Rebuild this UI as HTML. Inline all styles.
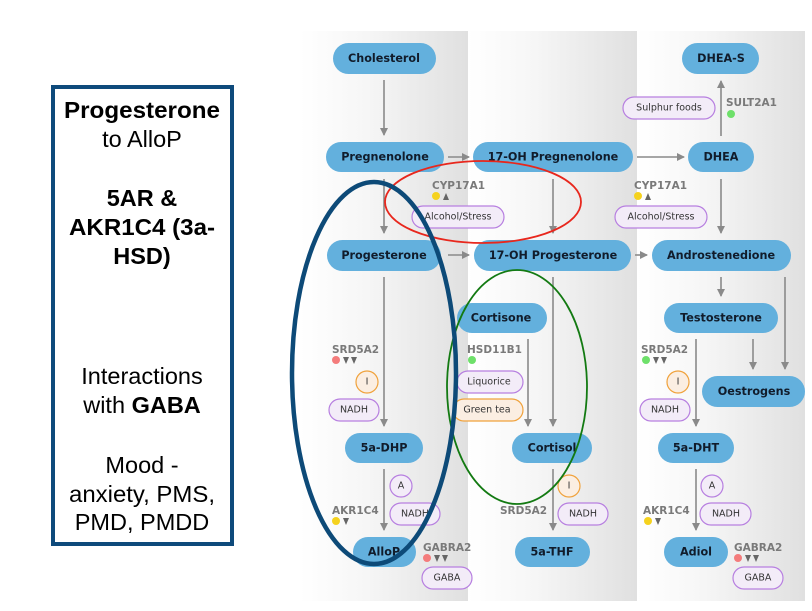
<!DOCTYPE html>
<html><head><meta charset="utf-8"><style>
html,body{margin:0;padding:0;background:#fff;width:812px;height:611px;overflow:hidden}
svg{display:block}
.p{fill:#63b0dd}
.pt{font-family:"DejaVu Sans","Liberation Sans",sans-serif;font-weight:bold;font-size:11.2px;fill:#111c2b;text-anchor:middle;dominant-baseline:central}
.en{font-family:"DejaVu Sans","Liberation Sans",sans-serif;font-weight:bold;font-size:10.5px;fill:#7a7a7a}
.tg{fill:#f3ecf8;stroke:#b77fe0;stroke-width:1.2}
.to{fill:#fbeee2;stroke:#f0a23c;stroke-width:1.2}
.tt{font-family:"DejaVu Sans","Liberation Sans",sans-serif;font-size:9.5px;fill:#333;text-anchor:middle;dominant-baseline:central}
.ln{stroke:#8a8a8a;stroke-width:1.6;fill:none}
.bx{font-family:"Liberation Sans",sans-serif;font-size:23.5px;fill:#000;text-anchor:middle}
</style></head><body>
<svg width="812" height="611" viewBox="0 0 812 611" xmlns="http://www.w3.org/2000/svg">
<defs>
<linearGradient id="g" x1="0" x2="1" y1="0" y2="0"><stop offset="0" stop-color="#ffffff"/><stop offset="0.4" stop-color="#f6f6f6"/><stop offset="1" stop-color="#e0e0e0"/></linearGradient>
<marker id="a" markerWidth="8" markerHeight="8" refX="7" refY="4" orient="auto" markerUnits="userSpaceOnUse"><path d="M0,0 L8,4 L0,8 Z" fill="#8a8a8a"/></marker>
</defs>
<rect x="300" y="31" width="168" height="570" fill="url(#g)"/>
<rect x="468" y="31" width="169" height="570" fill="url(#g)"/>
<rect x="637" y="31" width="168" height="570" fill="url(#g)"/>

<!-- left box -->
<rect x="53" y="87" width="179" height="457" fill="#fff" stroke="#0e4a7b" stroke-width="4"/>
<text class="bx" x="142" y="118" font-weight="bold" textLength="156" lengthAdjust="spacingAndGlyphs">Progesterone</text>
<text class="bx" x="142" y="147">to AlloP</text>
<text class="bx" x="142" y="206" font-weight="bold">5AR &amp;</text>
<text class="bx" x="142" y="235" font-weight="bold" textLength="146" lengthAdjust="spacingAndGlyphs">AKR1C4 (3a-</text>
<text class="bx" x="142" y="264" font-weight="bold">HSD)</text>
<text class="bx" x="142" y="384">Interactions</text>
<text class="bx" x="142" y="413">with <tspan font-weight="bold">GABA</tspan></text>
<text class="bx" x="142" y="473">Mood -</text>
<text class="bx" x="142" y="502" textLength="146" lengthAdjust="spacingAndGlyphs">anxiety, PMS,</text>
<text class="bx" x="142" y="530">PMD, PMDD</text>

<!-- connectors -->
<g class="ln">
<line x1="384" y1="80" x2="384" y2="135" marker-end="url(#a)"/>
<line x1="384" y1="179" x2="384" y2="233" marker-end="url(#a)"/>
<line x1="448" y1="157" x2="469" y2="157" marker-end="url(#a)"/>
<line x1="637" y1="157" x2="684" y2="157" marker-end="url(#a)"/>
<line x1="721" y1="136" x2="721" y2="81" marker-end="url(#a)"/>
<line x1="553" y1="179" x2="553" y2="233" marker-end="url(#a)"/>
<line x1="721" y1="179" x2="721" y2="233" marker-end="url(#a)"/>
<line x1="448" y1="255" x2="469" y2="255" marker-end="url(#a)"/>
<line x1="635" y1="255" x2="647" y2="255" marker-end="url(#a)"/>
<line x1="721" y1="277" x2="721" y2="296" marker-end="url(#a)"/>
<line x1="785" y1="277" x2="785" y2="369" marker-end="url(#a)"/>
<line x1="753" y1="339" x2="753" y2="369" marker-end="url(#a)"/>
<line x1="384" y1="277" x2="384" y2="426" marker-end="url(#a)"/>
<line x1="528" y1="339" x2="528" y2="426" marker-end="url(#a)"/>
<line x1="553" y1="277" x2="553" y2="426" marker-end="url(#a)"/>
<line x1="696" y1="339" x2="696" y2="426" marker-end="url(#a)"/>
<line x1="384" y1="469" x2="384" y2="530" marker-end="url(#a)"/>
<line x1="553" y1="469" x2="553" y2="530" marker-end="url(#a)"/>
<line x1="696" y1="469" x2="696" y2="530" marker-end="url(#a)"/>
</g>

<!-- pills -->
<g>
<rect class="p" x="333" y="43" width="103" height="31" rx="15.5"/><text class="pt" x="384" y="58.5">Cholesterol</text>
<rect class="p" x="682" y="43" width="77" height="31" rx="15.5"/><text class="pt" x="721" y="58.5">DHEA-S</text>
<rect class="p" x="326" y="142" width="118" height="30" rx="15"/><text class="pt" x="385" y="157">Pregnenolone</text>
<rect class="p" x="473" y="142" width="160" height="30" rx="15"/><text class="pt" x="553" y="157">17-OH Pregnenolone</text>
<rect class="p" x="688" y="142" width="66" height="30" rx="15"/><text class="pt" x="721" y="157">DHEA</text>
<rect class="p" x="327" y="240" width="114" height="31" rx="15.5"/><text class="pt" x="384" y="255.5">Progesterone</text>
<rect class="p" x="474" y="240" width="157" height="31" rx="15.5"/><text class="pt" x="553" y="255.5">17-OH Progesterone</text>
<rect class="p" x="652" y="240" width="139" height="31" rx="15.5"/><text class="pt" x="721" y="255.5">Androstenedione</text>
<rect class="p" x="457" y="303" width="90" height="30" rx="15"/><text class="pt" x="501" y="318">Cortisone</text>
<rect class="p" x="664" y="303" width="114" height="30" rx="15"/><text class="pt" x="721" y="318">Testosterone</text>
<rect class="p" x="702" y="376" width="103" height="31" rx="15.5"/><text class="pt" x="754" y="391.5">Oestrogens</text>
<rect class="p" x="345" y="433" width="78" height="30" rx="15"/><text class="pt" x="384" y="448">5a-DHP</text>
<rect class="p" x="512" y="433" width="80" height="30" rx="15"/><text class="pt" x="552" y="448">Cortisol</text>
<rect class="p" x="658" y="433" width="76" height="30" rx="15"/><text class="pt" x="696" y="448">5a-DHT</text>
<rect class="p" x="353" y="537" width="63" height="30" rx="15"/><text class="pt" x="384" y="552">AlloP</text>
<rect class="p" x="515" y="537" width="75" height="30" rx="15"/><text class="pt" x="552" y="552">5a-THF</text>
<rect class="p" x="664" y="537" width="64" height="30" rx="15"/><text class="pt" x="696" y="552">Adiol</text>
</g>

<!-- enzymes -->
<text class="en" x="726" y="106">SULT2A1</text><circle cx="731" cy="114" r="4" fill="#6ee06a"/>
<text class="en" x="432" y="189">CYP17A1</text><circle cx="436" cy="196" r="4" fill="#f5d21e"/><path d="M443,200 L446,193 L449,200Z" fill="#666"/>
<text class="en" x="634" y="189">CYP17A1</text><circle cx="638" cy="196" r="4" fill="#f5d21e"/><path d="M645,200 L648,193 L651,200Z" fill="#666"/>
<text class="en" x="332" y="353">SRD5A2</text><circle cx="336" cy="360" r="4" fill="#f47c7c"/><path d="M343,357 L349,357 L346,364Z M351,357 L357,357 L354,364Z" fill="#666"/>
<text class="en" x="467" y="353">HSD11B1</text><circle cx="472" cy="360" r="4" fill="#6ee06a"/>
<text class="en" x="641" y="353">SRD5A2</text><circle cx="646" cy="360" r="4" fill="#6ee06a"/><path d="M653,357 L659,357 L656,364Z M661,357 L667,357 L664,364Z" fill="#666"/>
<text class="en" x="332" y="514">AKR1C4</text><circle cx="336" cy="521" r="4" fill="#f5d21e"/><path d="M343,518 L349,518 L346,525Z" fill="#666"/>
<text class="en" x="500" y="514">SRD5A2</text>
<text class="en" x="643" y="514">AKR1C4</text><circle cx="648" cy="521" r="4" fill="#f5d21e"/><path d="M655,518 L661,518 L658,525Z" fill="#666"/>
<text class="en" x="423" y="551">GABRA2</text><circle cx="427" cy="558" r="4" fill="#f47c7c"/><path d="M434,555 L440,555 L437,562Z M442,555 L448,555 L445,562Z" fill="#666"/>
<text class="en" x="734" y="551">GABRA2</text><circle cx="738" cy="558" r="4" fill="#f47c7c"/><path d="M745,555 L751,555 L748,562Z M753,555 L759,555 L756,562Z" fill="#666"/>

<!-- tags -->
<rect class="tg" x="623" y="97" width="92" height="22" rx="11"/><text class="tt" x="669" y="108">Sulphur foods</text>
<rect class="tg" x="412" y="206" width="92" height="22" rx="11"/><text class="tt" x="458" y="217">Alcohol/Stress</text>
<rect class="tg" x="615" y="206" width="92" height="22" rx="11"/><text class="tt" x="661" y="217">Alcohol/Stress</text>
<circle class="to" cx="367" cy="382" r="11"/><text class="tt" x="367" y="382">I</text>
<rect class="tg" x="329" y="399" width="50" height="22" rx="11"/><text class="tt" x="354" y="410">NADH</text>
<rect class="tg" x="457" y="371" width="66" height="22" rx="11"/><text class="tt" x="489" y="382">Liquorice</text>
<rect class="to" x="453" y="399" width="70" height="22" rx="11"/><text class="tt" x="487" y="410">Green tea</text>
<circle class="to" cx="678" cy="382" r="11"/><text class="tt" x="678" y="382">I</text>
<rect class="tg" x="640" y="399" width="50" height="22" rx="11"/><text class="tt" x="665" y="410">NADH</text>
<circle class="tg" cx="401" cy="486" r="11"/><text class="tt" x="401" y="486">A</text>
<rect class="tg" x="390" y="503" width="50" height="22" rx="11"/><text class="tt" x="415" y="514">NADH</text>
<circle class="to" cx="569" cy="486" r="11"/><text class="tt" x="569" y="486">I</text>
<rect class="tg" x="558" y="503" width="50" height="22" rx="11"/><text class="tt" x="583" y="514">NADH</text>
<circle class="tg" cx="712" cy="486" r="11"/><text class="tt" x="712" y="486">A</text>
<rect class="tg" x="700" y="503" width="51" height="22" rx="11"/><text class="tt" x="726" y="514">NADH</text>
<rect class="tg" x="422" y="567" width="50" height="22" rx="11"/><text class="tt" x="447" y="578">GABA</text>
<rect class="tg" x="733" y="567" width="50" height="22" rx="11"/><text class="tt" x="758" y="578">GABA</text>

<!-- highlight ellipses -->
<ellipse cx="483" cy="202" rx="98" ry="41" fill="none" stroke="#e8271d" stroke-width="1.8"/>
<ellipse cx="517" cy="387" rx="70" ry="117" fill="none" stroke="#137a12" stroke-width="1.8"/>
<ellipse cx="374" cy="373" rx="82" ry="191" fill="none" stroke="#0d4a78" stroke-width="4.5"/>
</svg>
</body></html>
